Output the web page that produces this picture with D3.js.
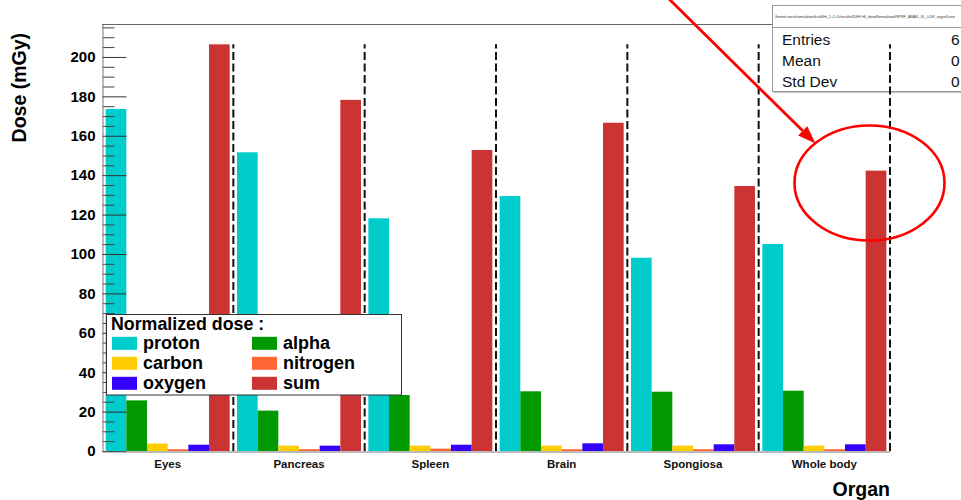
<!DOCTYPE html>
<html>
<head>
<meta charset="utf-8">
<script src="https://cdn.jsdelivr.net/npm/d3@7"></script>
<style>
  body { margin: 0; background: #fff; }
  svg { display: block; }
  text { font-family: "Liberation Sans", Arial, Helvetica, sans-serif; }
</style>
</head>
<body>
<svg id="chart" width="961" height="500"></svg>
<script>
// Dose per organ (mGy), split by ion species, plus the total
const organs   = ["Eyes", "Pancreas", "Spleen", "Brain", "Spongiosa", "Whole body"];
const proton   = [173.6, 151.6, 118.1, 129.4, 98.1, 105.1];
const alpha    = [25.7, 20.5, 28.4, 30.3, 30.1, 30.6];
const carbon   = [3.8, 2.7, 2.7, 2.7, 2.7, 2.7];
const nitrogen = [0.9, 0.9, 1.2, 0.9, 0.9, 0.9];
const oxygen   = [3.2, 2.7, 3.2, 3.9, 3.4, 3.4];
const sum      = [206.4, 178.2, 152.8, 166.6, 134.5, 142.3];

const seriesNames  = ["proton", "alpha", "carbon", "nitrogen", "oxygen", "sum"];
const seriesColors = ["#00cccc", "#009900", "#ffcc00", "#ff6633", "#3300ff", "#cc3333"];
const seriesValues = [proton, alpha, carbon, nitrogen, oxygen, sum];

const yMajorTicks = [0, 20, 40, 60, 80, 100, 120, 140, 160, 180, 200];
const statsLabels = ["Entries", "Mean", "Std Dev"];
const statsValues = ["6", "0", "0"];
const statsTitle  = "/home/users/simulation/build/Hi_1+1+0/results/IDEF-HI_doseNormalized/SPRF_AMAX_XL_LDR_organDose";

const svg = d3.select("#chart");
const plotL = 102, plotR = 890, plotT = 24, plotB = 451;

const yMax = d3.max(sum) * 1.05;
const y = d3.scaleLinear().domain([0, yMax]).range([plotB, plotT]);
const x = d3.scaleBand().domain(organs).range([plotL, plotR]).padding(0);
const xs = d3.scaleBand().domain(seriesNames).range([0, x.bandwidth()])
  .paddingInner(0).paddingOuter(0.177);

// bars
const bars = svg.append("g");
seriesNames.forEach((name, si) => {
  bars.selectAll(null)
    .data(organs.map((o, i) => ({ organ: o, v: seriesValues[si][i] })))
    .join("rect")
    .attr("x", d => x(d.organ) + xs(name))
    .attr("width", xs.bandwidth())
    .attr("y", d => y(d.v))
    .attr("height", d => y(0) - y(d.v))
    .attr("fill", seriesColors[si]);
});

// frame
const frame = svg.append("g").attr("fill", "none").attr("stroke", "#666").attr("stroke-width", 1);
frame.append("line").attr("x1", plotL).attr("x2", plotR).attr("y1", plotT + 0.5).attr("y2", plotT + 0.5);

// y axis: major and minor ticks drawn inward
const minorTicks = d3.range(0, yMax, 5).filter(v => v % 20 !== 0);
const yMinor = svg.append("g").attr("transform", `translate(${plotL + 0.5},0)`)
  .call(d3.axisLeft(y).tickValues(minorTicks).tickSizeInner(-12).tickSizeOuter(0).tickFormat(""));
yMinor.select(".domain").remove();
yMinor.selectAll(".tick line").attr("stroke", "#444");

const yAxis = svg.append("g").attr("transform", `translate(${plotL + 0.5},0)`)
  .call(d3.axisLeft(y).tickValues(yMajorTicks).tickSizeInner(-24).tickSizeOuter(0).tickPadding(7));
yAxis.select(".domain").attr("stroke", "#777");
yAxis.selectAll(".tick line").attr("stroke", "#333");
yAxis.selectAll(".tick text")
  .attr("font-size", 15).attr("font-weight", "bold").attr("fill", "#000")
  .attr("font-family", '"Liberation Sans", Arial, sans-serif');

// x axis: organ labels
const xAxis = svg.append("g").attr("transform", `translate(0,${plotB + 0.5})`)
  .call(d3.axisBottom(x).tickSize(0).tickPadding(8));
xAxis.select(".domain").attr("stroke", "#777");
xAxis.selectAll(".tick text")
  .attr("font-size", 11.5).attr("font-weight", "bold").attr("fill", "#111")
  .attr("font-family", '"Liberation Sans", Arial, sans-serif');

// axis titles
svg.append("text")
  .attr("transform", "translate(26,33) rotate(-90)")
  .attr("text-anchor", "end")
  .attr("font-size", 19.5).attr("font-weight", "bold")
  .text("Dose (mGy)");
svg.append("text")
  .attr("x", plotR).attr("y", 496)
  .attr("text-anchor", "end")
  .attr("font-size", 19.5).attr("font-weight", "bold")
  .text("Organ");

// statistics box
const stats = svg.append("g");
stats.append("rect").attr("x", 773.5).attr("y", 6.5).attr("width", 200).attr("height", 86)
  .attr("fill", "#888");
stats.append("rect").attr("x", 772.5).attr("y", 5.5).attr("width", 200).attr("height", 86)
  .attr("fill", "#fff").attr("stroke", "#999");
stats.append("line").attr("x1", 772.5).attr("x2", 961).attr("y1", 27.5).attr("y2", 27.5)
  .attr("stroke", "#999");
stats.append("text").attr("x", 775).attr("y", 17.5).attr("font-size", 3.6).attr("fill", "#333")
  .attr("textLength", 180).attr("lengthAdjust", "spacingAndGlyphs")
  .text(statsTitle);
statsLabels.forEach((t, i) => {
  stats.append("text").attr("x", 782).attr("y", 44.5 + i * 21).attr("font-size", 15.5).attr("fill", "#111").text(t);
  stats.append("text").attr("x", 951).attr("y", 44.5 + i * 21).attr("font-size", 15.5).attr("fill", "#111").text(statsValues[i]);
});

// dashed separators between organs, up to the largest total
const seps = organs.map(o => x(o) + x.bandwidth());
svg.append("g").selectAll("line").data(seps).join("line")
  .attr("x1", d => d).attr("x2", d => d)
  .attr("y1", y(0)).attr("y2", y(d3.max(sum)))
  .attr("stroke", "#111").attr("stroke-width", 2).attr("stroke-dasharray", "8,3.5");

// legend
const lg = svg.append("g");
lg.append("rect").attr("x", 106.5).attr("y", 314.5).attr("width", 295).attr("height", 80.5)
  .attr("fill", "#fff").attr("stroke", "#333");
lg.append("text").attr("x", 111).attr("y", 329.5).attr("font-size", 17.8).attr("font-weight", "bold")
  .text("Normalized dose :");
seriesNames.forEach((name, i) => {
  const row = Math.floor(i / 2), col = i % 2;
  const sx = col === 0 ? 112 : 252;
  const cy = 343.3 + row * 20;
  lg.append("rect").attr("x", sx).attr("y", cy - 6.5).attr("width", 25).attr("height", 13)
    .attr("fill", seriesColors[i]);
  lg.append("text").attr("x", sx + 31).attr("y", cy + 5.5).attr("font-size", 18).attr("font-weight", "bold")
    .text(name);
});

// red annotation: arrow and ellipse around the whole-body total
const ann = svg.append("g").attr("stroke", "#ff0000").attr("fill", "none");
const tip = [815.5, 143.5], start = [664, -6];
const ang = Math.atan2(tip[1] - start[1], tip[0] - start[0]);
const hl = 18, hw = 6.5;
const base = [tip[0] - hl * Math.cos(ang), tip[1] - hl * Math.sin(ang)];
ann.append("line").attr("x1", start[0]).attr("y1", start[1]).attr("x2", base[0]).attr("y2", base[1])
  .attr("stroke-width", 2.8);
ann.append("polygon")
  .attr("points", [
    tip,
    [base[0] + hw * Math.sin(ang), base[1] - hw * Math.cos(ang)],
    [base[0] - hw * Math.sin(ang), base[1] + hw * Math.cos(ang)]
  ].map(p => p.join(",")).join(" "))
  .attr("fill", "#ff0000").attr("stroke", "none");
ann.append("ellipse").attr("cx", 869.5).attr("cy", 183).attr("rx", 75).attr("ry", 57.5)
  .attr("stroke-width", 2.6);
</script>
</body>
</html>
